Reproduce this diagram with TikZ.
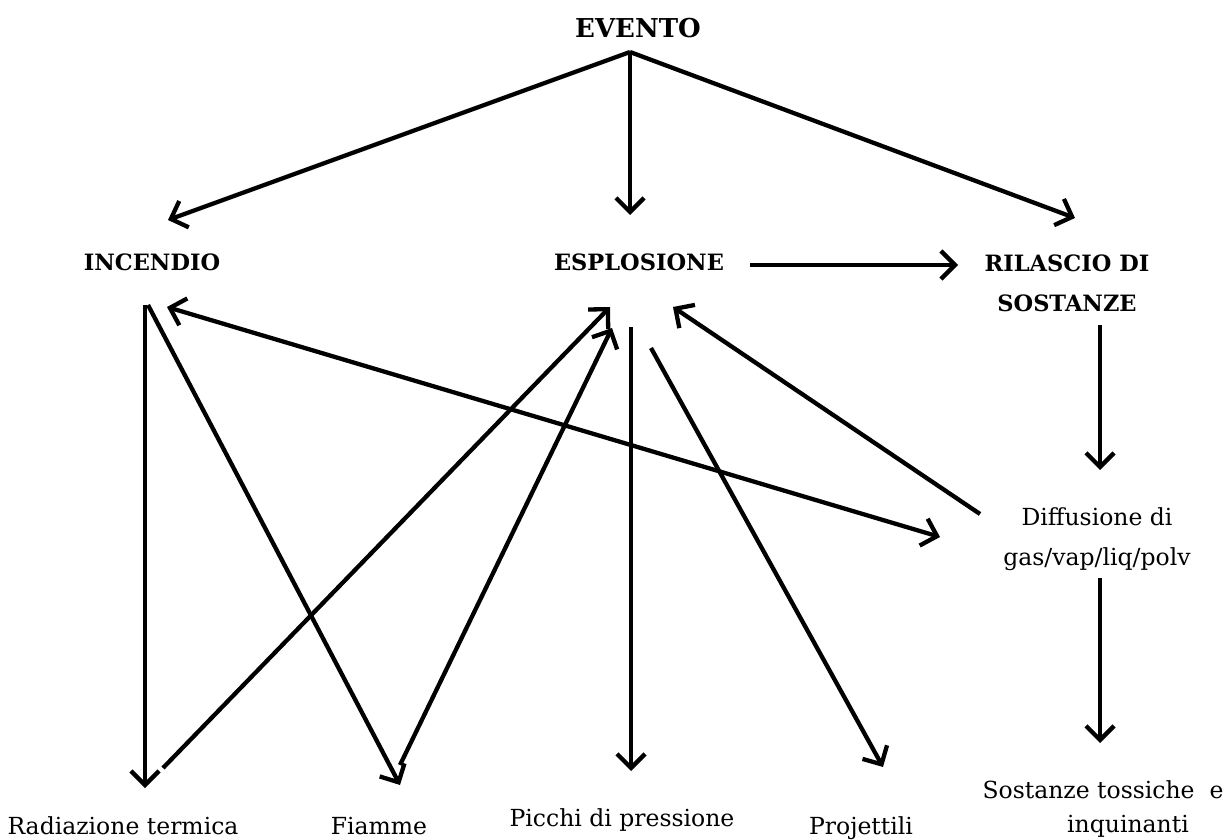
\documentclass[tikz,border=0pt]{standalone}
\usepackage{fontspec}
\setmainfont{DejaVu Serif}
\usetikzlibrary{arrows.meta}
\tikzset{
  lbl/.style={anchor=base, inner sep=0pt, font=\fontsize{23.5}{28}\selectfont},
  hd/.style={anchor=base, inner sep=0pt, font=\fontsize{22.5}{28}\selectfont\bfseries},
  arr/.style={line width=4.3pt, -{Straight Barb[length=14pt,width=28pt]}},
  darr/.style={line width=4.3pt, {Straight Barb[length=14pt,width=28pt]}-{Straight Barb[length=14pt,width=28pt]}}
}
\begin{document}
\begin{tikzpicture}[x=1pt,y=-1pt]
\useasboundingbox (0,0) rectangle (1223,840);
% text nodes
\node[hd, font=\fontsize{26}{30}\selectfont\bfseries] (evento) at (638,38) {EVENTO};
\node[hd] (incendio) at (152,270) {INCENDIO};
\node[hd] (esplosione) at (639,270) {ESPLOSIONE};
\node[hd] (rilascio) at (1067,271) {RILASCIO DI};
\node[hd] (sostanze) at (1067,311) {SOSTANZE};
\node[lbl] (diff) at (1097,525) {Diffusione di};
\node[lbl] (gas) at (1097,565) {gas/vap/liq/polv};
\node[lbl] (tox) at (1103,798) {Sostanze tossiche\ \ e};
\node[lbl] (inq) at (1128,832) {inquinanti};
\node[lbl] (rad) at (123,834) {Radiazione termica};
\node[lbl] (fiamme) at (379,834) {Fiamme};
\node[lbl] (picchi) at (622,826) {Picchi di pressione};
\node[lbl] (proj) at (861,834) {Projettili};
% connector end points
\coordinate (evO) at (630,52);
\coordinate (incT) at (168,220);
\coordinate (espT) at (630,215);
\coordinate (rilT) at (1075,218);
\coordinate (espR) at (750,265);
\coordinate (rilL) at (958,265);
\coordinate (rilB) at (1100,325);
\coordinate (diffT) at (1100,470);
\coordinate (diffB) at (1100,578);
\coordinate (toxT) at (1100,743);
\coordinate (incB) at (145,305);
\coordinate (incB2) at (148,305);
\coordinate (radT) at (145,788);
\coordinate (fiaT) at (400,785);
\coordinate (radS) at (163,768);
\coordinate (espA) at (610,307);
\coordinate (fiaS) at (400,765);
\coordinate (espB) at (612,328);
\coordinate (espV) at (631,327);
\coordinate (picT) at (631,771);
\coordinate (espP) at (651,348);
\coordinate (projT) at (883,767);
\coordinate (diffS) at (980,514);
\coordinate (espC) at (673,307);
\coordinate (incR) at (167,307);
\coordinate (diffL) at (940,537);
% connectors
\draw[arr] (evO) -- (incT);
\draw[arr] (evO) -- (espT);
\draw[arr] (evO) -- (rilT);
\draw[arr] (espR) -- (rilL);
\draw[arr] (rilB) -- (diffT);
\draw[arr] (diffB) -- (toxT);
\draw[arr] (incB) -- (radT);
\draw[arr] (incB2) -- (fiaT);
\draw[arr] (radS) -- (espA);
\draw[arr] (fiaS) -- (espB);
\draw[arr] (espV) -- (picT);
\draw[arr] (espP) -- (projT);
\draw[arr] (diffS) -- (espC);
\draw[darr] (incR) -- (diffL);
\end{tikzpicture}
\end{document}
